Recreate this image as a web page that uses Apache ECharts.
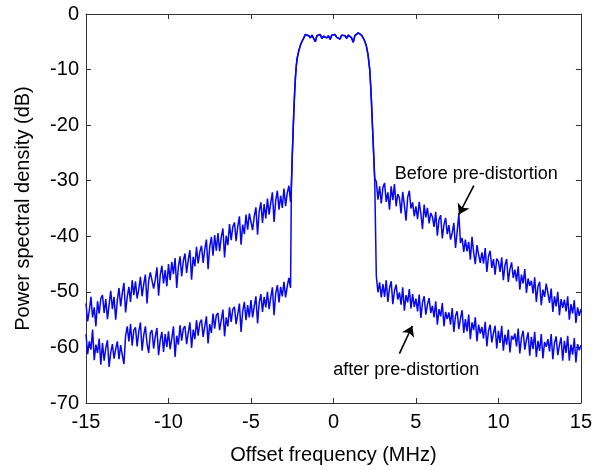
<!DOCTYPE html>
<html><head><meta charset="utf-8">
<script src="https://cdn.jsdelivr.net/npm/echarts@6/dist/echarts.min.js"></script>
<style>html,body{margin:0;padding:0;background:#fff}#c{width:595px;height:470px}</style>
</head><body><div id="c"></div><script>
// ---- data (dB values) ----
const xTicks = [-15, -10, -5, 0, 5, 10, 15];
const yTicks = [-70, -60, -50, -40, -30, -20, -10, 0];

// lower sideband, frequency grid -15.0 ... -2.6 MHz (step 0.1)
const lowerStart = -15.0, gridStep = 0.1;
const beforeLower = [
-52.1,-55.3,-53.4,-50.9,-54.6,-52.8,-56.2,-51.7,-53.9,-51.2,
-50.6,-53.8,-51.3,-54.9,-52.4,-49.8,-53.1,-50.9,-55.0,-51.5,
-49.3,-52.6,-50.2,-48.4,-53.7,-50.9,-49.1,-51.8,-47.9,-50.6,
-48.1,-51.2,-49.5,-47.3,-50.8,-48.6,-46.9,-52.1,-48.0,-46.5,
-46.2,-49.4,-47.8,-45.6,-50.7,-47.0,-45.3,-48.5,-46.1,-49.0,
-45.0,-47.9,-44.6,-46.8,-43.9,-49.3,-45.5,-43.6,-47.2,-44.4,
-43.1,-46.6,-44.2,-42.5,-47.8,-43.7,-45.4,-41.9,-44.9,-42.8,
-41.7,-44.8,-42.3,-40.6,-45.9,-41.9,-40.1,-43.5,-39.8,-42.6,
-39.4,-42.7,-40.1,-38.6,-43.8,-39.9,-41.6,-37.8,-40.7,-38.3,
-37.5,-40.9,-38.2,-36.4,-41.5,-37.9,-39.6,-36.1,-38.8,-35.9,
-35.6,-38.9,-36.4,-34.8,-39.7,-35.5,-33.9,-37.6,-34.2,-36.8,
-33.2,-36.1,-34.0,-32.1,-37.4,-33.6,-31.8,-35.2,-32.7,-34.9,
-31.4,-34.6,-32.2,-30.9,-33.8
];
const afterLower = [
-57.6,-61.2,-58.9,-60.4,-56.8,-62.3,-59.5,-61.0,-58.4,-63.1,
-59.2,-62.4,-60.1,-58.7,-63.5,-60.9,-59.4,-62.0,-60.3,-58.9,
-62.1,-59.6,-61.4,-63.0,-57.9,-56.2,-58.9,-55.8,-59.7,-56.9,
-56.4,-59.8,-57.1,-55.5,-60.6,-57.8,-56.2,-59.3,-61.0,-57.4,
-56.9,-60.2,-58.0,-56.5,-61.4,-58.7,-57.2,-60.8,-57.6,-59.9,
-57.1,-60.3,-58.4,-56.2,-61.7,-57.9,-59.5,-56.0,-58.8,-56.6,
-56.2,-59.4,-57.3,-55.5,-60.1,-56.8,-58.5,-55.1,-57.9,-55.6,
-55.0,-58.1,-56.2,-54.4,-59.3,-55.8,-57.4,-53.9,-56.6,-54.2,
-53.8,-56.9,-55.1,-53.2,-58.0,-54.6,-56.2,-52.8,-55.4,-53.1,
-52.7,-55.8,-54.0,-52.1,-57.2,-53.5,-51.8,-55.1,-52.4,-54.6,
-51.5,-54.6,-52.6,-50.8,-55.7,-52.0,-50.4,-53.6,-50.9,-52.8,
-50.0,-53.1,-51.0,-49.2,-54.2,-50.3,-48.8,-51.9,-49.1,-50.8,
-48.2,-51.0,-49.0,-47.5,-49.3
];

// main channel (shared by both curves)
const bandFreq = [-2.55,-2.5,-2.45,-2.4,-2.35,-2.3,-2.25,-2.2,-2.1,-2.0,-1.9,-1.8,-1.7,
-1.6,-1.5,-1.4,-1.3,-1.2,-1.1,-1.0,-0.9,-0.8,-0.7,-0.6,-0.5,-0.4,-0.3,-0.2,-0.1,0,
0.1,0.2,0.3,0.4,0.5,0.6,0.7,0.8,0.9,1.0,1.1,1.2,1.3,1.4,1.5,1.6,
1.7,1.8,1.9,2.0,2.1,2.2,2.25,2.3,2.35,2.4,2.45,2.5];
const bandPower = [-31,-26,-21.5,-17.5,-14,-11.2,-9.3,-8.0,-6.6,-5.6,-4.9,-4.3,-3.7,
-3.5,-3.9,-4.3,-3.8,-4.1,-5.0,-3.9,-4.2,-3.7,-4.4,-4.0,-3.8,-4.3,-3.9,-4.6,-3.8,-4.1,
-3.7,-4.2,-4.0,-4.5,-3.8,-4.1,-3.9,-4.4,-3.8,-4.0,-4.3,-5.1,-3.9,-3.6,-3.4,-3.7,
-3.8,-4.3,-4.9,-5.8,-7.4,-10,-12.5,-15.5,-19,-22.5,-26,-29.5];

// upper sideband, frequency grid 2.6 ... 15.0 MHz (step 0.1)
const upperStart = 2.6;
const beforeUpper = [
-30.2,-33.4,-31.0,-34.1,
-31.2,-30.4,-33.8,-32.1,-35.2,-31.0,-33.5,-30.6,-34.6,-32.4,
-33.1,-35.9,-32.0,-34.4,-37.2,-33.0,-31.8,-35.0,-33.9,-36.4,
-34.6,-36.9,-33.8,-35.9,-38.7,-34.3,-36.6,-34.9,-37.7,-35.8,
-36.5,-38.3,-35.6,-39.9,-37.0,-36.2,-40.4,-37.9,-36.7,-39.6,
-38.0,-40.6,-39.4,-37.6,-42.1,-39.2,-35.9,-41.2,-40.3,-42.8,
-40.6,-42.7,-41.0,-44.2,-40.1,-42.9,-45.0,-41.6,-43.3,-44.8,
-42.9,-44.9,-42.1,-46.4,-43.6,-42.6,-45.7,-44.1,-46.9,-44.0,
-44.5,-46.4,-43.8,-47.9,-45.2,-44.1,-48.2,-45.9,-44.7,-47.5,
-46.0,-48.1,-45.4,-49.6,-46.9,-48.5,-45.9,-50.2,-47.6,-48.9,
-48.0,-50.3,-47.4,-51.8,-49.0,-48.2,-52.4,-49.6,-50.9,-48.5,
-50.2,-52.0,-49.4,-53.6,-50.8,-52.6,-50.0,-54.2,-51.3,-52.9,
-51.4,-53.5,-50.8,-55.0,-52.2,-53.9,-51.5,-55.6,-52.8,-54.3,
-53.1
];
const afterUpper = [
-47.2,-50.1,-48.3,-51.0,
-48.6,-50.9,-47.9,-51.8,-49.3,-48.1,-52.2,-49.8,-48.7,-51.4,
-50.1,-52.3,-49.2,-53.4,-50.6,-51.9,-49.5,-53.0,-50.4,-52.7,
-51.2,-53.5,-50.5,-54.7,-51.9,-50.8,-54.1,-52.3,-51.1,-53.8,
-52.5,-54.6,-51.7,-55.9,-53.1,-54.4,-52.0,-56.2,-53.6,-54.9,
-53.7,-55.9,-52.9,-57.2,-54.3,-53.5,-56.7,-54.8,-53.3,-57.4,
-54.9,-57.1,-54.1,-58.5,-55.5,-56.9,-54.6,-58.9,-55.9,-57.5,
-56.3,-58.4,-55.4,-59.8,-57.0,-55.9,-59.1,-57.4,-56.1,-60.2,
-57.0,-59.2,-56.1,-60.6,-57.7,-59.5,-56.8,-60.9,-57.9,-58.6,
-57.5,-59.8,-56.6,-61.1,-58.2,-57.0,-60.4,-58.7,-57.3,-61.5,
-58.1,-60.3,-57.2,-61.7,-58.8,-60.6,-57.6,-62.0,-59.0,-59.9,
-58.5,-60.7,-57.6,-62.1,-59.2,-58.0,-61.4,-59.6,-58.2,-62.4,
-58.8,-61.0,-57.9,-62.4,-59.5,-61.3,-58.3,-62.7,-59.4,-60.5,
-59.6
];

// annotations
const noteTexts = ['Before pre-distortion', 'after pre-distortion'];
const noteAt = [[8.66, -28.8], [4.42, -64.1]];
const arrowFrom = [[8.51, -30.9], [4.0, -61.1]];
const arrowTo = [[7.61, -36.06], [4.78, -56.14]];

// ---- build ----
function onGrid(start, vals) {
  return vals.map((v, i) => [+(start + i * gridStep).toFixed(2), v]);
}
function band() { return bandFreq.map((f, i) => [f, bandPower[i]]); }
const beforeData = onGrid(lowerStart, beforeLower).concat(band(), onGrid(upperStart, beforeUpper));
const afterData = onGrid(lowerStart, afterLower).concat(band(), onGrid(upperStart, afterUpper));

const FONT = 'Liberation Sans, Arial, sans-serif';
const axisColor = '#333';
const xMin = xTicks[0], xMax = xTicks[xTicks.length - 1], xInt = xTicks[1] - xTicks[0];
const yMin = yTicks[0], yMax = yTicks[yTicks.length - 1], yInt = yTicks[1] - yTicks[0];

function xAx(pos, main) {
  return {
    type: 'value', position: pos, min: xMin, max: xMax, interval: xInt,
    axisLine: { show: true, onZero: false, lineStyle: { color: axisColor, width: 1 } },
    axisTick: { show: true, inside: true, length: 5, lineStyle: { color: axisColor } },
    axisLabel: { show: main, fontSize: 20, color: '#000', fontFamily: FONT, margin: 9 },
    splitLine: { show: false },
    name: main ? 'Offset frequency (MHz)' : '', nameLocation: 'middle', nameGap: 42,
    nameTextStyle: { fontSize: 20, color: '#000', fontFamily: FONT }
  };
}
function yAx(pos, main) {
  return {
    type: 'value', position: pos, min: yMin, max: yMax, interval: yInt,
    axisLine: { show: true, onZero: false, lineStyle: { color: axisColor, width: 1 } },
    axisTick: { show: true, inside: true, length: 5, lineStyle: { color: axisColor } },
    axisLabel: { show: main, fontSize: 20, color: '#000', fontFamily: FONT, margin: 7 },
    splitLine: { show: false },
    name: main ? 'Power spectral density (dB)' : '', nameLocation: 'middle', nameGap: 53,
    nameTextStyle: { fontSize: 20, color: '#000', fontFamily: FONT }
  };
}

const lineColor = '#0606f0';
const chart = echarts.init(document.getElementById('c'), null, { renderer: 'canvas' });
chart.setOption({
  animation: false,
  backgroundColor: '#fff',
  grid: { left: 86, right: 10, top: 14, bottom: 62 },
  xAxis: [xAx('bottom', true), xAx('top', false)],
  yAxis: [yAx('left', true), yAx('right', false)],
  series: [
    { name: 'before', type: 'line', xAxisIndex: 0, yAxisIndex: 0, data: beforeData,
      showSymbol: false, symbol: 'none', lineStyle: { color: lineColor, width: 1.5 }, silent: true },
    { name: 'after', type: 'line', xAxisIndex: 0, yAxisIndex: 0, data: afterData,
      showSymbol: false, symbol: 'none', lineStyle: { color: lineColor, width: 1.5 }, silent: true },
    { name: 'notes', type: 'line', xAxisIndex: 0, yAxisIndex: 0, data: [], silent: true,
      markLine: {
        silent: true, symbol: ['none', 'arrow'], symbolSize: 10,
        lineStyle: { color: '#000', width: 1.6, type: 'solid' }, label: { show: false },
        data: arrowFrom.map((a, i) => [{ coord: a }, { coord: arrowTo[i] }])
      },
      markPoint: {
        silent: true, symbol: 'rect', symbolSize: 1, itemStyle: { color: 'rgba(0,0,0,0)' },
        label: { show: true, position: 'inside', formatter: '{b}', color: '#000', fontSize: 18, fontFamily: FONT },
        data: noteTexts.map((t, i) => ({ name: t, coord: noteAt[i] }))
      }
    }
  ]
});
</script></body></html>
